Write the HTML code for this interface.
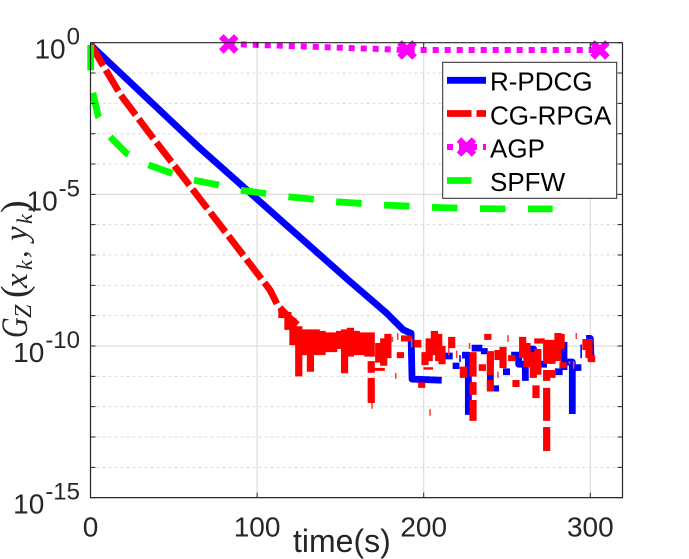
<!DOCTYPE html>
<html>
<head>
<meta charset="utf-8">
<style>
html,body{margin:0;padding:0;background:#fff;}
svg{display:block;}
text{font-family:"Liberation Sans",sans-serif;}
.tick{font-size:28px;fill:#262626;}
.sup{font-size:24px;fill:#262626;}
.leg{font-size:26px;fill:#000;}
.math{font-family:"Liberation Serif",serif;font-style:italic;fill:#262626;}
</style>
</head>
<body>
<svg id="chart" width="689" height="559" viewBox="0 0 689 559" xmlns="http://www.w3.org/2000/svg">
  <g id="grid"></g>
  <g id="series"></g>
  <g id="axes"></g>
  <g id="xlabels"></g>
  <g id="ylabels"></g>
  <text x="293" y="552" font-size="32" fill="#262626">time(s)</text>
  <g transform="translate(27,338) rotate(-90)">
    <text class="math" transform="scale(0.92,1.2)" x="0" y="0" font-size="31">G</text>
    <text class="math" font-size="21"><tspan x="20" y="4" font-size="24">Z</tspan><tspan x="40" y="0" font-size="38" font-style="normal">(</tspan><tspan x="50" y="0" font-size="33">x</tspan><tspan x="68" y="5" font-size="22">k</tspan><tspan x="80" y="0" font-size="30">,</tspan><tspan x="97" y="0" font-size="33">y</tspan><tspan x="114" y="5" font-size="22">k</tspan><tspan x="125" y="0" font-size="38" font-style="normal">)</tspan></text>
  </g>
  <g>
    <rect x="442.7" y="62.3" width="174" height="136" fill="#fff" stroke="#262626" stroke-width="1"/>
    <g>
      <line x1="447" x2="486" y1="80.3" y2="80.3" stroke="#0000ff" stroke-width="6.8"/>
      <text class="leg" x="490" y="90.7">R-PDCG</text>
    </g>
    <g>
      <line x1="447" x2="486" y1="113.5" y2="113.5" stroke="#ff0000" stroke-width="6.8" stroke-dasharray="24.5 5"/>
      <text class="leg" x="490" y="124.3">CG-RPGA</text>
    </g>
    <g>
      <line x1="447" x2="486" y1="147" y2="147" stroke="#ff00ff" stroke-width="6" stroke-dasharray="6 6"/>
      <path d="M459 139.5L474 154.5M474 139.5L459 154.5" stroke="#ff00ff" stroke-width="6.5" fill="none"/>
      <text class="leg" x="490" y="157.7">AGP</text>
    </g>
    <g>
      <line x1="447" x2="471.5" y1="180.5" y2="180.5" stroke="#00ff00" stroke-width="6.8"/>
      <text class="leg" x="490" y="191">SPFW</text>
    </g>
  </g>
</svg>
<script>
// X ticks and decades
const xTickValues = [0, 100, 200, 300];
const yTickExponents = [0, -5, -10, -15];
const yGridExponents = [-1,-2,-3,-4,-5,-6,-7,-8,-9,-10,-11,-12,-13,-14];

// R-PDCG (log10 of the gap, null = break in the line)
const blueTimes = [0,65.7,119.7,154.6,177.8,187.8,192.4,193,210.8,null,
  211.7,217.4,null,219.4,219.4,null,223,226.8,226.8,null,228.8,235.2,null,236.4,236.4,null,
  238,242,null,243.2,243.2,null,247.6,251.8,null,252.5,257,257,261,261,null,
  264,266,267,null,270,274,null,278.8,283.4,null,284.2,284.2,null,286,289.2,289.2,null,
  292.6,292.6,null,297.5,300,300.5];
const blueLogs = [-0.07,-3.48,-6.12,-7.82,-8.92,-9.47,-9.58,-11.09,-11.13,null,
  -10.33,-10.33,null,-10.55,-10.76,null,-10.3,-10.3,-12.27,null,-10.07,-10.07,null,-10.07,-10.27,null,
  -11.05,-11.05,null,-11.3,-11.5,null,-10.85,-10.85,null,-10.3,-10.3,-10.6,-10.6,-11.15,null,
  -10.1,-10.1,-10.5,null,-10.6,-10.6,null,-10.85,-10.85,null,-9.87,-10.79,null,-10.53,-10.53,-12.24,null,
  -10.6,-10.82,null,-9.75,-9.75,-10.5];
const blueThinTimes = [221.8, 294.5];
const blueThinTops = [-10.3, -9.95];
const blueThinBottoms = [-10.53, -10.4];

// CG-RPGA descent
const redTimes = [0,3.9,18.1,35.7,65.7,107.7,112.5,119.7,124.5];
const redLogs = [-0.07,-0.41,-1.72,-3.01,-5.15,-8.15,-8.67,-9.08,-9.31];
// CG-RPGA noise floor: range of values reached around each time
const redRangeTimes = [114.9,118.5,121.5,125,128.5,132,135.5,139,142.5,146,149.5,152.5,156,159.5,163,166.5,168.5,168.5,168.5,
  173,176,178.5,172.5,174.5,186,188.5,191,196.4,198.8,200.8,203.3,206.4,209,211,202,203.5,216.8,223.8,
  229.6,229.6,229.6,235.2,238.5,240,240,244.6,247.6,252.8,255.4,259.4,262,265.8,268.5,267.4,268.5,270.5,
  273.8,273.8,273.8,273.8,277,277,280.6,282.5,283.6,297.4,299.2,300.8];
const redRangeTops = [-8.75,-8.88,-9.08,-9.35,-9.45,-9.45,-9.45,-9.5,-9.55,-9.55,-9.5,-9.45,-9.4,-9.5,-9.55,-9.55,-9.55,-10.5,-11.05,
  -9.9,-9.75,-9.6,-10.72,-10.72,-10.2,-9.65,-9.65,-9.8,-11.2,-10.2,-9.75,-9.5,-9.6,-10,-10.7,-10.7,-9.7,-10.68,
  -10.2,-11.19,-11.78,-10.6,-9.6,-10.17,-11.12,-10.13,-10.03,-10.3,-11.12,-9.7,-9.9,-10.2,-10.1,-11.3,-9.75,-9.75,
  -9.8,-10.79,-11.38,-12.67,-9.8,-10.79,-9.57,-9.6,-10.53,-9.77,-9.77,-10.3];
const redRangeBottoms = [-9.08,-9.47,-9.97,-11,-10.3,-10.85,-10.3,-10.3,-10.2,-10.2,-10.1,-10.9,-10.35,-10.3,-10.3,-10.35,-10.35,-10.88,-11.88,
  -10.55,-10.65,-10.4,-10.82,-10.82,-10.4,-9.85,-9.85,-10.05,-11.38,-10.63,-10.5,-10.3,-10.5,-10.6,-10.78,-10.78,-10.07,-11.05,
  -11.01,-11.61,-12.47,-10.82,-9.8,-10.96,-11.5,-10.46,-10.73,-10.5,-11.35,-10.4,-10.7,-11.05,-10.95,-11.72,-9.92,-9.92,
  -10.59,-11.15,-12.47,-13.46,-10.59,-11.05,-10.5,-10.1,-10.73,-10.13,-10.39,-10.53];
const redThinTimes = [169,181.2,184.4,183.2,192.8,203.8,215,219.8,227.5,244.6,250.6,287.5,290,291.6];
const redThinTops = [-11.88,-9.7,-9.57,-10.89,-9.75,-12.08,-10.07,-10.15,-9.9,-10.85,-9.64,-10.5,-10.5,-9.57];
const redThinBottoms = [-12.07,-9.87,-9.8,-11.08,-10.05,-12.3,-10.3,-10.4,-10.1,-11.05,-9.87,-10.6,-10.75,-9.77];

// AGP
const agpTimes = [83, 190, 305.8];
const agpLogs = [-0.04, -0.24, -0.24];

// SPFW
const spfwTimes = [0.1,0.1,1.3,4.7,11.7,21.7,34.7,48.7,61.7,76.7,89.7,104.7,118.7,133.7,146.8,162.4,175.8,191.2,204.4,219.9,233.4,248.8,277.4];
const spfwLogs = [-0.07,-0.84,-1.62,-2.44,-3.1,-3.65,-4.03,-4.3,-4.53,-4.69,-4.86,-4.97,-5.08,-5.16,-5.24,-5.3,-5.35,-5.39,-5.43,-5.45,-5.47,-5.48,-5.48];

const NS = 'http://www.w3.org/2000/svg';
const AX = {left: 90.5, right: 622.5, top: 42.7, bottom: 497.6};
function xPos(t) { return AX.left + t * 1.666; }
function yPos(e) { return AX.top - e * 30.33; }

function pathFromSeries(ts, es) {
  let d = '', pen = false;
  for (let i = 0; i < ts.length; i++) {
    if (ts[i] === null || es[i] === null) { pen = false; continue; }
    d += (pen ? 'L' : 'M') + xPos(ts[i]).toFixed(2) + ' ' + yPos(es[i]).toFixed(2);
    pen = true;
  }
  return d;
}
function pathFromRanges(ts, tops, bottoms) {
  let d = '';
  for (let i = 0; i < ts.length; i++) {
    d += 'M' + xPos(ts[i]).toFixed(2) + ' ' + yPos(tops[i]).toFixed(2) + 'L' + xPos(ts[i]).toFixed(2) + ' ' + yPos(bottoms[i]).toFixed(2);
  }
  return d;
}
function makePath(parent, d, color, width, dash) {
  const p = document.createElementNS(NS, 'path');
  p.setAttribute('d', d);
  p.setAttribute('fill', 'none');
  p.setAttribute('stroke', color);
  p.setAttribute('stroke-width', width);
  p.setAttribute('stroke-linejoin', 'round');
  if (dash) p.setAttribute('stroke-dasharray', dash);
  parent.appendChild(p);
  return p;
}
function makeText(parent, x, y, cls, anchor, str) {
  const t = document.createElementNS(NS, 'text');
  t.setAttribute('x', x);
  t.setAttribute('y', y);
  t.setAttribute('class', cls);
  t.setAttribute('text-anchor', anchor);
  t.textContent = str;
  parent.appendChild(t);
  return t;
}

// grid
const gridG = document.getElementById('grid');
xTickValues.slice(1).forEach(function (v) {
  const g = makePath(gridG, 'M' + xPos(v) + ' ' + AX.top + 'L' + xPos(v) + ' ' + AX.bottom, '#dddddd', 1.2);
  
  
});
yGridExponents.forEach(function (e) {
  const major = e % 5 === 0;
  const g = makePath(gridG, 'M' + AX.left + ' ' + yPos(e) + 'L' + AX.right + ' ' + yPos(e), major ? '#dddddd' : '#dcdcdc', major ? 1.2 : 1, major ? null : '3 3');
  
  
});

// series
const seriesG = document.getElementById('series');
const blueLine = makePath(seriesG, pathFromSeries(blueTimes, blueLogs), '#0000ff', 6.8);


const blueThin = makePath(seriesG, pathFromRanges(blueThinTimes, blueThinTops, blueThinBottoms), '#0000ff', 1.6);


const redLine = makePath(seriesG, pathFromSeries(redTimes, redLogs), '#ff0000', 6.8, '24.5 5');


const redNoise = makePath(seriesG, pathFromRanges(redRangeTimes, redRangeTops, redRangeBottoms), '#ff0000', 7.2);


const redThin = makePath(seriesG, pathFromRanges(redThinTimes, redThinTops, redThinBottoms), '#ff4040', 1.6);


const agpLine = makePath(seriesG, pathFromSeries(agpTimes, agpLogs), '#ff00ff', 6, '6 6');


agpTimes.forEach(function (t, i) {
  const cx = xPos(t), cy = yPos(agpLogs[i]), r = 7.5;
  const m = makePath(seriesG, 'M' + (cx - r) + ' ' + (cy - r) + 'L' + (cx + r) + ' ' + (cy + r) + 'M' + (cx + r) + ' ' + (cy - r) + 'L' + (cx - r) + ' ' + (cy + r), '#ff00ff', 6.5);
  
  
});
const spfwLine = makePath(seriesG, pathFromSeries(spfwTimes, spfwLogs), '#00ff00', 6.8, '25.5 22.5');



// axes and ticks
const axesG = document.getElementById('axes');
let tickD = '';
xTickValues.forEach(function (v) {
  tickD += 'M' + xPos(v) + ' ' + AX.bottom + 'v-5M' + xPos(v) + ' ' + AX.top + 'v5';
});
[0].concat(yGridExponents).concat([-15]).forEach(function (e) {
  tickD += 'M' + AX.left + ' ' + yPos(e) + 'h5M' + AX.right + ' ' + yPos(e) + 'h-5';
});
const ticks = makePath(axesG, tickD, '#262626', 1);


const box = makePath(axesG, 'M' + AX.left + ' ' + AX.top + 'H' + AX.right + 'V' + AX.bottom + 'H' + AX.left + 'Z', '#262626', 1.2);



// labels
const xlabG = document.getElementById('xlabels');
xTickValues.forEach(function (v) {
  const t = makeText(xlabG, xPos(v), 536.7, 'tick', 'middle', String(v));
  
  
});
const ylabG = document.getElementById('ylabels');
yTickExponents.forEach(function (e) {
  const base = yPos(e) + 16;
  const sup = makeText(ylabG, 80, base - 14, 'sup', 'end', String(e));
  
  
  const width = sup.getComputedTextLength();
  const ten = makeText(ylabG, 80 - width - 1, base, 'tick', 'end', '10');
  
  
});
</script>
</body>
</html>
